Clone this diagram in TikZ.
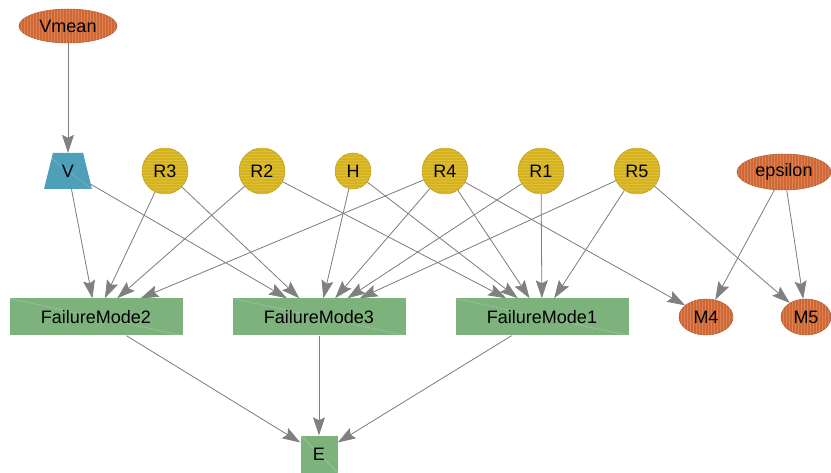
\documentclass[tikz,border=0pt]{standalone}
\usepackage{fontspec}
\setmainfont{Liberation Sans}
\usetikzlibrary{arrows.meta,shapes.geometric,patterns}
\definecolor{hyperorange}{RGB}{209,104,51}
\definecolor{paryellow}{RGB}{214,178,28}
\definecolor{inpblue}{RGB}{78,160,184}
\definecolor{fmgreen}{RGB}{125,178,125}
\definecolor{edgegray}{RGB}{128,128,128}
\tikzset{
  varnode/.style={inner sep=0pt, font=\fontsize{18}{21}\selectfont, text=black},
  hyper/.style={varnode, ellipse, fill=hyperorange, draw=hyperorange!80!black, line width=0.5pt,
    postaction={pattern=vertical lines, pattern color=hyperorange!82!white}},
  param/.style={varnode, circle, minimum size=46pt, fill=paryellow, draw=paryellow!85!black, line width=0.5pt,
    postaction={pattern=horizontal lines, pattern color=paryellow!85!white}},
  inpnode/.style={varnode, trapezium, trapezium angle=74, trapezium stretches=true,
    minimum width=48pt, minimum height=36pt, fill=inpblue,
    path picture={\draw[white, opacity=0.3, line width=0.4pt]
      (path picture bounding box.north west) -- (path picture bounding box.south east);}},
  fmode/.style={varnode, rectangle, minimum width=173pt, minimum height=37pt, fill=fmgreen,
    path picture={\draw[white, opacity=0.3, line width=0.4pt]
      (path picture bounding box.north west) -- (path picture bounding box.south east);}},
  link/.style={-{Stealth[length=18pt, width=12pt, inset=3pt]}, line width=0.8pt, draw=edgegray, fill=edgegray},
}

\begin{document}
\begin{tikzpicture}[x=1pt, y=-1pt]
  \useasboundingbox (0,0) rectangle (831,473);
  % top: hyperparameter
  \node[hyper, minimum width=98pt, minimum height=34pt] (vmean) at (68,26) {Vmean};
  % middle row
  \node[inpnode] (v) at (68,171) {V};
  \node[param] (r3) at (165,171) {R3};
  \node[param] (r2) at (262,171) {R2};
  \node[param, minimum size=36pt] (h) at (353,171) {H};
  \node[param] (r4) at (445,171) {R4};
  \node[param] (r1) at (541,171) {R1};
  \node[param] (r5) at (637,171) {R5};
  \node[hyper, minimum width=94pt, minimum height=36pt] (eps) at (784,172) {epsilon};
  % failure modes and measurements
  \node[fmode] (fm2) at (96,317) {FailureMode2};
  \node[fmode] (fm3) at (319,317) {FailureMode3};
  \node[fmode] (fm1) at (542,317) {FailureMode1};
  \node[hyper, minimum width=54pt, minimum height=36pt] (m4) at (706,317) {M4};
  \node[hyper, minimum width=50pt, minimum height=36pt] (m5) at (806,317) {M5};
  % event
  \node[fmode, minimum width=37pt] (e) at (319,454) {E};

  \draw[link] (vmean) -- (v);
  \draw[link] (v) -- (fm2);
  \draw[link] (v) -- (fm3);
  \draw[link] (r3) -- (fm2);
  \draw[link] (r3) -- (fm3);
  \draw[link] (r2) -- (fm2);
  \draw[link] (r2) -- (fm1);
  \draw[link] (h) -- (fm3);
  \draw[link] (h) -- (fm1);
  \draw[link] (r4) -- (fm2);
  \draw[link] (r4) -- (fm3);
  \draw[link] (r4) -- (fm1);
  \draw[link] (r4) -- (m4);
  \draw[link] (r1) -- (fm3);
  \draw[link] (r1) -- (fm1);
  \draw[link] (r5) -- (fm3);
  \draw[link] (r5) -- (fm1);
  \draw[link] (r5) -- (m5);
  \draw[link] (eps) -- (m4);
  \draw[link] (eps) -- (m5);
  \draw[link] (fm2) -- (e);
  \draw[link] (fm3) -- (e);
  \draw[link] (fm1) -- (e);
\end{tikzpicture}
\end{document}
